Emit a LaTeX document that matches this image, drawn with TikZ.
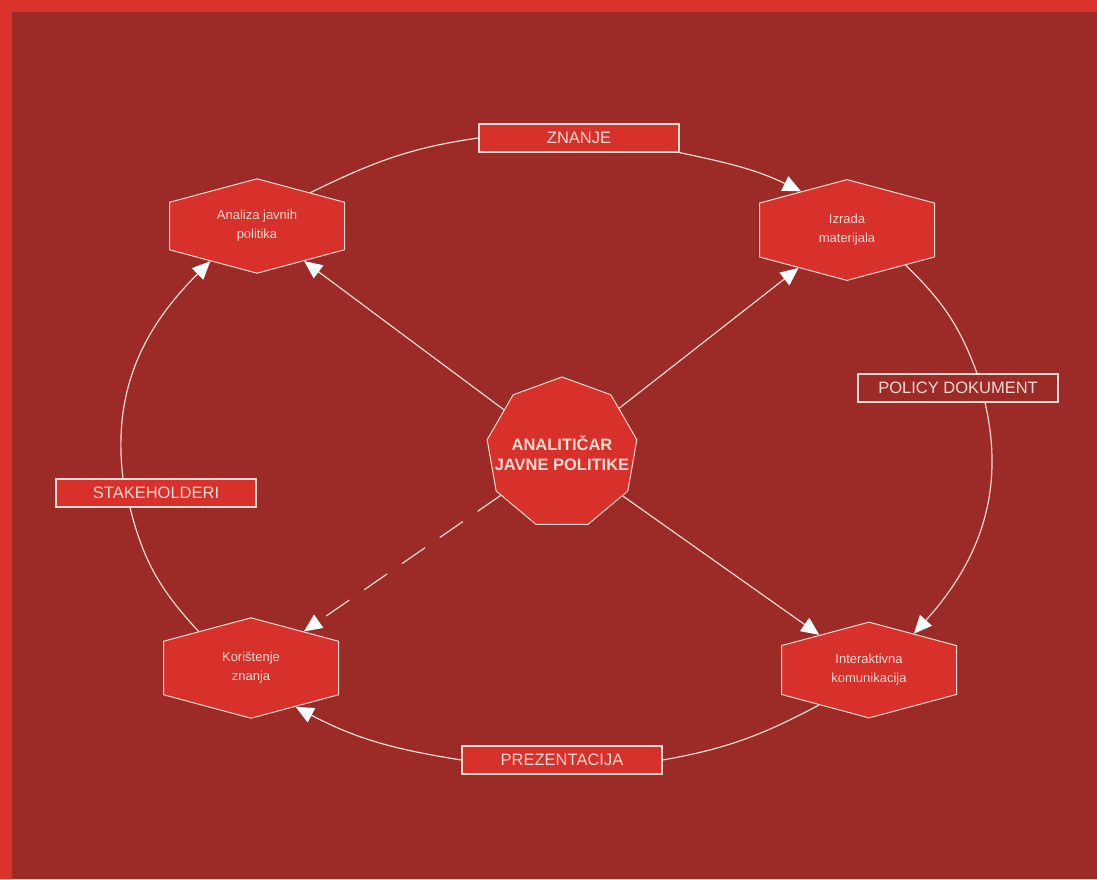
\documentclass[tikz,border=0pt]{standalone}
\usepackage{fontspec}
\setmainfont{Liberation Sans}
\usetikzlibrary{shapes.geometric,shapes.symbols,arrows.meta}
\definecolor{framered}{HTML}{D9332B}
\definecolor{bgred}{HTML}{9C2B27}
\definecolor{hexred}{HTML}{D8302A}
\definecolor{pale}{HTML}{F6DCD4}

\begin{document}
\begin{tikzpicture}
            [every node/.style={inner sep=0pt},
             hexnode/.style={signal, signal to=north and south, signal pointer angle=150, minimum width=175pt, minimum height=69pt, fill=hexred, draw=pale, line width=1pt, text=pale, align=center, font=\fontsize{13}{19}\selectfont},
             tagnode/.style={rectangle, minimum width=200pt, minimum height=28pt, fill=hexred, draw=pale, line width=1.2pt, text=pale, font=\fontsize{16.5}{18}\selectfont},
             cyc/.style={line width=1.2pt, color=pale},
             tip/.style={-{Triangle[width=16pt,length=18pt,color=white]}}]
                \fill [framered] (0pt, 0pt) rectangle (1097pt, -879pt);
                \fill [bgred] (12pt, -12pt) rectangle (1097pt, -879pt);
                % nodes
                \node (ana) [hexnode] at (257pt, -226pt) {Analiza javnih\\politika};
                \node (izr) [hexnode] at (847pt, -230pt) {Izrada\\materijala};
                \node (int) [hexnode] at (869pt, -670pt) {Interaktivna\\komunikacija};
                \node (kor) [hexnode] at (251pt, -668pt) {Korištenje\\znanja};
                \node (cen) [regular polygon, regular polygon sides=9, minimum size=152pt, fill=hexred, draw=pale, line width=1pt,
                    label={[text=pale, align=center, font=\fontsize{16.5}{20}\selectfont\bfseries]center:ANALITIČAR\\JAVNE POLITIKE}] at (562pt, -453pt) {};
                \node (znanje) [tagnode] at (579pt, -138pt) {ZNANJE};
                \node (policy) [tagnode, fill=bgred] at (958pt, -388pt) {POLICY DOKUMENT};
                \node (prez) [tagnode] at (562pt, -760pt) {PREZENTACIJA};
                \node (stake) [tagnode] at (156pt, -493pt) {STAKEHOLDERI};
                % outer cycle
                \draw [cyc] (ana.32) to [out=26, in=188] (znanje.west);
                \draw [cyc, tip] (znanje.south east) to [out=-12, in=154] (izr.140);
                \draw [cyc] (izr.-31) to [out=-44, in=110] ([xshift=19pt]policy.north);
                \draw [cyc, tip] ([xshift=27pt]policy.south) to [out=-77, in=48] (int.39);
                \draw [cyc] (int.215) to [out=208, in=10] (prez.east);
                \draw [cyc, tip] (prez.west) to [out=171, in=-28] (kor.-41);
                \draw [cyc] (kor.145) to [out=133, in=-76] ([xshift=-26pt]stake.south);
                \draw [cyc, tip] ([xshift=-33pt]stake.north) to [out=97, in=225] (ana.217);
                % spokes
                \draw [cyc, tip] (cen) to (ana);
                \draw [cyc, tip] (cen) to (izr);
                \draw [cyc, tip] (cen) to (int);
                \draw [cyc, tip, dash pattern=on 28pt off 18pt] (cen) to (kor);
            \end{tikzpicture}
\end{document}
